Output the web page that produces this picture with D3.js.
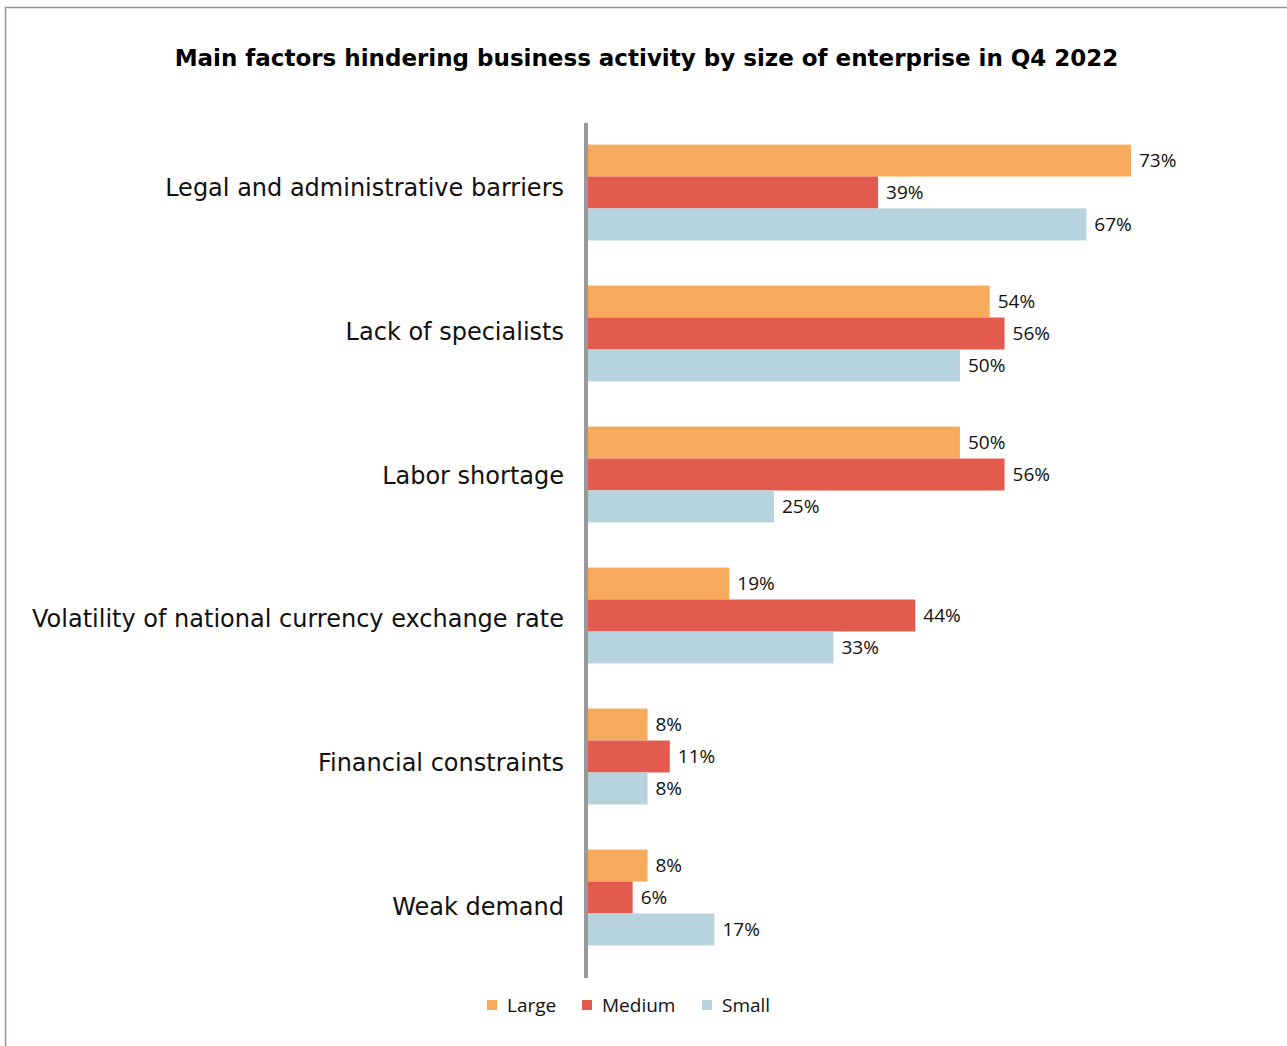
<!DOCTYPE html>
<html>
<head>
<meta charset="utf-8">
<script src="https://cdn.jsdelivr.net/npm/d3@7"></script>
<style>
  html, body { margin: 0; padding: 0; background: #fff; }
  svg { display: block; }
</style>
</head>
<body>
<svg id="chart" width="1287" height="1046"></svg>
<script>
// Share of enterprises citing each factor, by enterprise size (%)
const categories = [
  "Legal and administrative barriers",
  "Lack of specialists",
  "Labor shortage",
  "Volatility of national currency exchange rate",
  "Financial constraints",
  "Weak demand"
];
const seriesNames = ["Large", "Medium", "Small"];
const largeValues  = [73, 54, 50, 19, 8, 8];
const mediumValues = [39, 56, 56, 44, 11, 6];
const smallValues  = [67, 50, 25, 33, 8, 17];
const seriesColors = ["#F7AA5C", "#E35A4F", "#B7D3DD"];
const titleText = "Main factors hindering business activity by size of enterprise in Q4 2022";

const series = [largeValues, mediumValues, smallValues];
const rows = categories.map((c, i) => ({
  category: c,
  values: seriesNames.map((s, k) => ({ key: s, value: series[k][i] }))
}));

const svg = d3.select("#chart");

// outer frame
svg.append("rect")
  .attr("x", 5.5).attr("y", 7.5)
  .attr("width", 1300).attr("height", 1100)
  .attr("fill", "none")
  .attr("stroke", "#8C9AA8")
  .attr("stroke-width", 1.5);

svg.append("text")
  .attr("x", 646.5).attr("y", 66)
  .attr("text-anchor", "middle")
  .attr("font-family", "DejaVu Sans")
  .attr("font-weight", "bold")
  .attr("font-size", 23)
  .attr("fill", "#000")
  .text(titleText);

const x0 = 588;
const x = d3.scaleLinear().domain([0, 73]).range([x0, 1131]);

// bar groups
const y = d3.scaleBand()
  .domain(categories)
  .range([122, 968])
  .paddingInner(0.32)
  .paddingOuter(0.16);

// category labels spread over the full axis length
const yLabel = d3.scaleBand()
  .domain(categories)
  .range([116, 978]);

const ySub = d3.scaleBand()
  .domain(seriesNames)
  .range([0, y.bandwidth()]);

const color = d3.scaleOrdinal().domain(seriesNames).range(seriesColors);

const groups = svg.append("g").selectAll("g")
  .data(rows)
  .join("g")
  .attr("transform", d => `translate(0,${y(d.category)})`);

groups.selectAll("rect")
  .data(d => d.values)
  .join("rect")
  .attr("x", x0)
  .attr("y", d => ySub(d.key))
  .attr("width", d => x(d.value) - x0)
  .attr("height", ySub.bandwidth())
  .attr("fill", d => color(d.key));

groups.selectAll("text.val")
  .data(d => d.values)
  .join("text")
  .attr("class", "val")
  .attr("x", d => x(d.value) + 8)
  .attr("y", d => ySub(d.key) + ySub.bandwidth() / 2)
  .attr("dy", "0.35em")
  .attr("font-family", "Open Sans")
  .attr("font-size", 19)
  .attr("fill", "#111")
  .text(d => d.value + "%");

// category axis
const yAxis = svg.append("g")
  .attr("transform", `translate(${x0 - 2},0)`)
  .call(d3.axisLeft(yLabel).tickSize(0).tickPadding(22));
yAxis.select(".domain").remove();
yAxis.selectAll("text")
  .attr("font-family", "DejaVu Sans")
  .attr("font-size", 24)
  .attr("fill", "#111")
  .attr("dy", "0.35em");

svg.append("line")
  .attr("x1", x0 - 2).attr("x2", x0 - 2)
  .attr("y1", 123).attr("y2", 978)
  .attr("stroke", "#999999")
  .attr("stroke-width", 4);

// legend
const legendX = [487, 582, 702];
const legend = svg.append("g").selectAll("g")
  .data(seriesNames)
  .join("g")
  .attr("transform", (d, i) => `translate(${legendX[i]},1000)`);
legend.append("rect")
  .attr("width", 10).attr("height", 10)
  .attr("fill", d => color(d));
legend.append("text")
  .attr("x", 20).attr("y", 5)
  .attr("dy", "0.35em")
  .attr("font-family", "Open Sans")
  .attr("font-size", 19)
  .attr("fill", "#111")
  .text(d => d);
</script>
</body>
</html>
